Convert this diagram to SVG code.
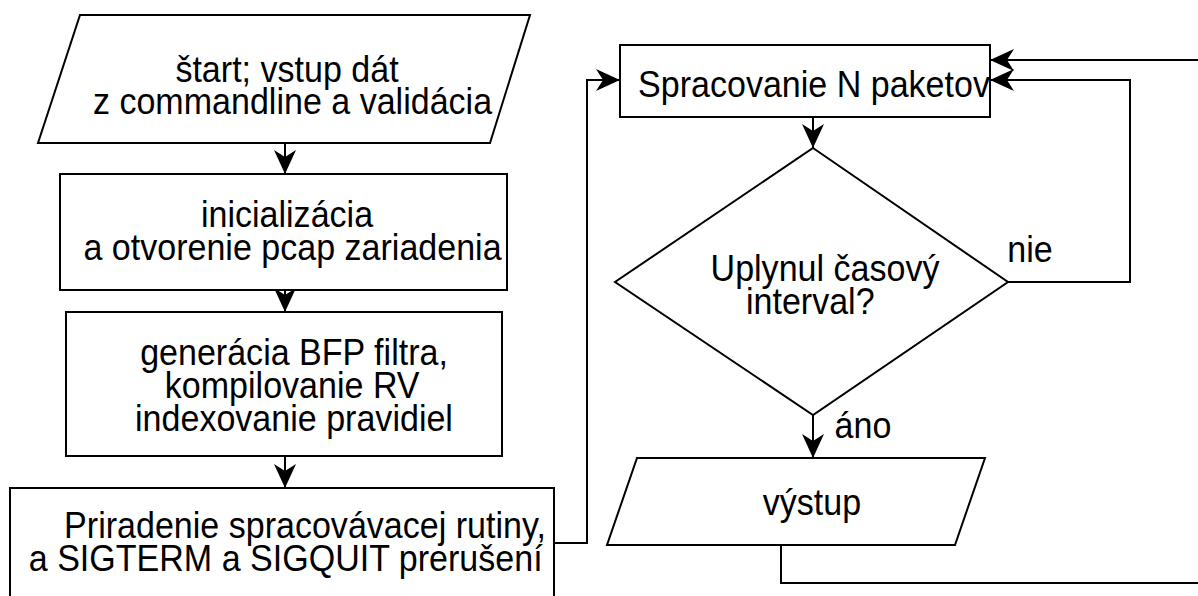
<svg xmlns="http://www.w3.org/2000/svg" width="1198" height="596" viewBox="0 0 1198 596">
  <style>
    .shape { fill: #ffffff; stroke: #000000; stroke-width: 2; }
    .edge { fill: none; stroke: #000000; stroke-width: 2; }
    .lbl { font-family: "Liberation Sans", Arial, sans-serif; font-size: 37px; fill: #000000; text-anchor: middle; }
  </style>
  <defs>
    <marker id="arrow" viewBox="0 0 24 22" refX="24" refY="11" markerWidth="24" markerHeight="22" markerUnits="userSpaceOnUse" orient="auto">
      <path d="M24 11 L0 0 L7 11 L0 22 Z" fill="#000000"/>
    </marker>
  </defs>
  <rect width="1198" height="596" fill="#ffffff"/>

  <!-- connectors -->
  <g id="connectors">
    <path class="edge" d="M285 143 V174" marker-end="url(#arrow)"/>
    <path class="edge" d="M285 290 V312" marker-end="url(#arrow)"/>
    <path class="edge" d="M285 456 V488" marker-end="url(#arrow)"/>
    <path class="edge" d="M554 543 H587 V80 H620" marker-end="url(#arrow)"/>
    <path class="edge" d="M813 117 V148" marker-end="url(#arrow)"/>
    <path class="edge" d="M1008 282 H1130 V80 H990" marker-end="url(#arrow)"/>
    <path class="edge" d="M813 415 V458" marker-end="url(#arrow)"/>
    <path class="edge" d="M781 545 V583 H1215 V60 H990" marker-end="url(#arrow)"/>
  </g>

  <!-- labels are drawn condensed: scale(0.92,1) around each anchor -->
  <g id="start">
    <polygon class="shape" points="80,15 530,15 490,143 38,143"/>
    <text class="lbl" transform="translate(287,82) scale(0.92,1)"><tspan x="0">štart; vstup dát</tspan><tspan x="6" dy="32">z commandline a validácia</tspan></text>
  </g>

  <g id="init">
    <rect class="shape" x="60" y="174" width="447" height="116"/>
    <text class="lbl" transform="translate(287,227) scale(0.92,1)"><tspan x="0">inicializácia</tspan><tspan x="6" dy="33">a otvorenie pcap zariadenia</tspan></text>
  </g>

  <g id="filter">
    <rect class="shape" x="66" y="312" width="436" height="144"/>
    <text class="lbl" transform="translate(294,365) scale(0.92,1)"><tspan x="0">generácia BFP filtra,</tspan><tspan x="-2" dy="33">kompilovanie RV</tspan><tspan x="0" dy="33">indexovanie pravidiel</tspan></text>
  </g>

  <g id="handler">
    <rect class="shape" x="10" y="488" width="544" height="130"/>
    <text class="lbl" transform="translate(305,538) scale(0.92,1)"><tspan x="0">Priradenie spracovávacej rutiny,</tspan><tspan x="-21" dy="33">a SIGTERM a SIGQUIT prerušení</tspan></text>
  </g>

  <g id="process">
    <rect class="shape" x="620" y="45" width="370" height="72"/>
    <text class="lbl" x="814" y="97" transform="translate(814,0) scale(0.92,1) translate(-814,0)">Spracovanie N paketov</text>
  </g>

  <g id="decision">
    <polygon class="shape" points="813,148 1008,282 813,415 615,282"/>
    <text class="lbl" transform="translate(825,281) scale(0.92,1)"><tspan x="0">Uplynul časový</tspan><tspan x="-16" dy="33">interval?</tspan></text>
  </g>

  <g id="labels">
    <text class="lbl" transform="translate(1030,262) scale(0.92,1)">nie</text>
    <text class="lbl" transform="translate(863,438) scale(0.92,1)">áno</text>
  </g>

  <g id="output">
    <polygon class="shape" points="637,458 985,458 955,545 607,545"/>
    <text class="lbl" transform="translate(812,515) scale(0.92,1)">výstup</text>
  </g>
</svg>
